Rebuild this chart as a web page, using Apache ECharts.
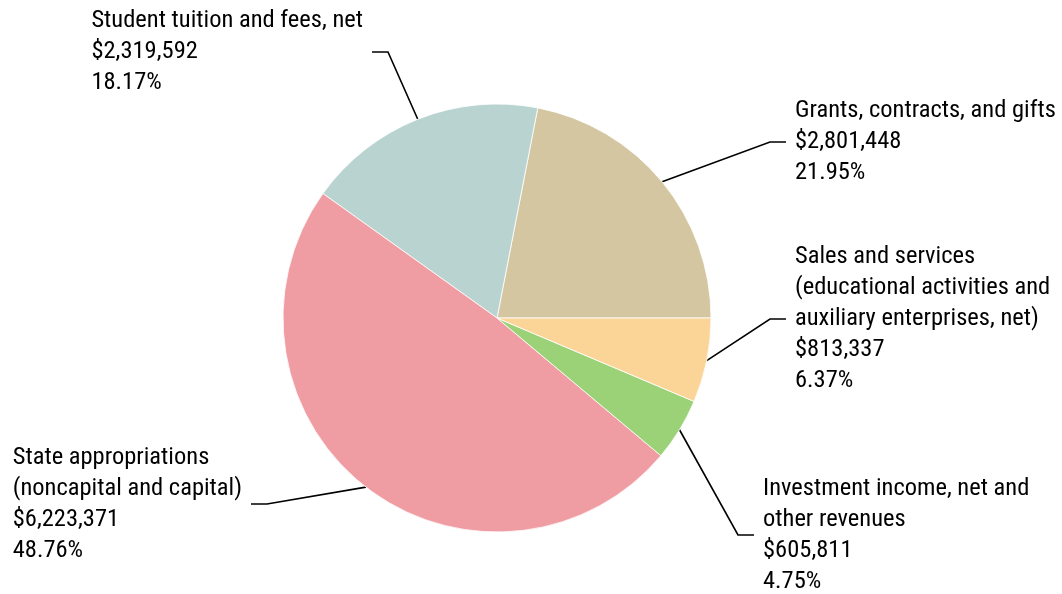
<!DOCTYPE html>
<html>
<head>
<meta charset="utf-8">
<script src="https://cdn.jsdelivr.net/npm/echarts@6/dist/echarts.min.js"></script>
<style>
  html, body { margin: 0; padding: 0; background: #fff; }
  #chart { width: 1062px; height: 594px; }
</style>
</head>
<body>
<div id="chart"></div>
<script>
// revenue sources, counter-clockwise from 3 o'clock
const categories = [
  'Grants, contracts, and gifts',
  'Student tuition and fees, net',
  'State appropriations\n(noncapital and capital)',
  'Investment income, net and\nother revenues',
  'Sales and services\n(educational activities and\nauxiliary enterprises, net)'
]
const amounts = [2801448, 2319592, 6223371, 605811, 813337]
const sliceColors = ['#d4c6a0', '#b9d4d0', '#f09ca3', '#9bd277', '#fbd598']

// where each leader line turns horizontal (px)
const leaderBends = [[770, 142], [388, 52], [267, 504], [738, 535], [770, 319]]
const tailLength = 16
const textGap = 9

const chart = echarts.init(document.getElementById('chart'))

chart.setOption({
  animation: false,
  series: [{
    type: 'pie',
    center: [497, 318],
    radius: 214,
    startAngle: 0,
    clockwise: false,
    silent: true,
    data: categories.map((name, i) => ({
      name: name,
      value: amounts[i],
      itemStyle: { color: sliceColors[i] }
    })),
    itemStyle: {
      borderColor: '#fff',
      borderWidth: 0.8
    },
    label: {
      show: true,
      position: 'outside',
      color: '#000',
      fontFamily: "'Roboto Condensed', 'Liberation Sans Narrow', sans-serif",
      fontSize: 24.5,
      lineHeight: 31,
      formatter: p => p.name + '\n$' + p.value.toLocaleString('en-US') + '\n' + p.percent.toFixed(2) + '%'
    },
    labelLine: {
      show: true,
      lineStyle: { color: '#000', width: 1.6 }
    },
    labelLayout: function (params) {
      const bend = leaderBends[params.dataIndex]
      const edge = params.labelLinePoints[0]
      const onRight = bend[0] > 497
      const tailEnd = onRight ? bend[0] + tailLength : bend[0] - tailLength
      const textX = onRight ? tailEnd + textGap : tailEnd - textGap - params.labelRect.width
      return {
        x: textX,
        y: bend[1],
        align: 'left',
        verticalAlign: 'middle',
        labelLinePoints: [edge, bend, [tailEnd, bend[1]]]
      }
    }
  }]
})
</script>
</body>
</html>
